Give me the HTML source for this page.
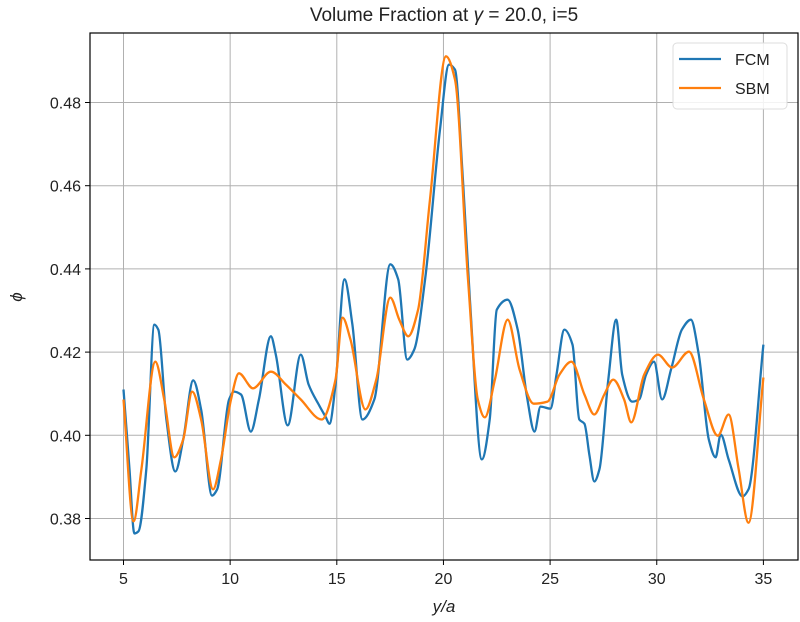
<!DOCTYPE html>
<html><head><meta charset="utf-8"><style>
body{margin:0;background:#fff;}
svg{display:block;font-family:"Liberation Sans","DejaVu Sans",sans-serif;}
</style></head><body>
<svg id="chart" width="800" height="622" viewBox="0 0 800 622">
<g id="grid"></g>
<g id="series"></g>
<rect x="90" y="33" width="708" height="527" fill="none" stroke="#000" stroke-width="1.2"/>
<g id="xticks"></g>
<g id="yticks"></g>
<text x="444" y="21" text-anchor="middle" font-size="19" fill="#222">Volume Fraction at <tspan font-style="italic">γ</tspan> = 20.0, i=5</text>
<text x="444" y="612" text-anchor="middle" font-size="17" font-style="italic" fill="#222">y/a</text>
<text x="22" y="297" text-anchor="middle" font-size="17" font-style="italic" fill="#222" transform="rotate(-90 22 297)">ϕ</text>
<g>
<rect x="673" y="43" width="114" height="66" rx="4" fill="#fff" fill-opacity="0.85" stroke="#ddd"/>
<line x1="679" y1="59" x2="721" y2="59" stroke="#1f77b4" stroke-width="2.2"/>
<text x="735" y="65" font-size="16" fill="#222">FCM</text>
<line x1="679" y1="88" x2="721" y2="88" stroke="#ff7f0e" stroke-width="2.2"/>
<text x="735" y="94" font-size="16" fill="#222">SBM</text>
</g>
</svg>
<script>
const xTickVals=[5,10,15,20,25,30,35];
const yTickVals=[0.38,0.40,0.42,0.44,0.46,0.48];
const yTickLabels=["0.38","0.40","0.42","0.44","0.46","0.48"];
const fcmX=[5.00,5.28,5.51,5.70,6.07,6.45,6.63,7.01,7.43,7.80,8.27,8.64,9.15,9.39,9.95,10.18,10.51,10.97,11.35,11.91,12.14,12.70,13.31,13.68,14.15,14.47,14.66,14.94,15.36,15.73,16.20,16.76,17.51,17.88,18.30,18.63,19.14,19.84,20.26,20.54,20.91,21.24,21.80,22.17,22.50,23.01,23.48,23.90,24.27,24.55,25.02,25.30,25.67,26.05,26.37,26.61,26.84,27.07,27.31,27.73,28.10,28.38,28.85,29.17,29.50,29.87,30.25,30.67,31.18,31.60,31.97,32.44,32.76,33.00,33.37,34.02,34.30,35.00];
const fcmY=[0.4110,0.3918,0.3764,0.3769,0.3918,0.4266,0.4254,0.4038,0.3913,0.3990,0.4132,0.4062,0.3855,0.3870,0.4086,0.4105,0.4098,0.4009,0.4086,0.4238,0.4194,0.4024,0.4194,0.4122,0.4074,0.4045,0.4028,0.4122,0.4375,0.4266,0.4038,0.4086,0.4411,0.4375,0.4182,0.4206,0.4375,0.4735,0.4891,0.4879,0.4615,0.4326,0.3942,0.4038,0.4302,0.4326,0.4254,0.4098,0.4009,0.4069,0.4064,0.4146,0.4254,0.4218,0.4038,0.4028,0.3954,0.3889,0.3918,0.4134,0.4278,0.4146,0.4081,0.4086,0.4146,0.4177,0.4086,0.4158,0.4254,0.4278,0.4194,0.3990,0.3947,0.4002,0.3942,0.3853,0.3870,0.4218];
const sbmX=[5.00,5.47,5.84,6.49,6.91,7.38,7.80,8.22,8.64,9.20,9.57,10.04,10.41,11.07,11.91,12.61,13.31,14.29,14.94,15.27,15.64,16.34,16.85,17.51,17.93,18.35,18.81,19.37,20.12,20.54,21.15,21.61,21.94,22.41,23.01,23.57,24.23,24.88,25.44,26.00,26.61,27.07,27.54,27.96,28.47,28.80,29.41,30.06,30.72,31.51,32.21,32.86,33.37,33.84,34.30,35.00];
const sbmY=[0.4086,0.3793,0.3918,0.4177,0.4086,0.3947,0.3990,0.4105,0.4038,0.3870,0.3942,0.4086,0.4149,0.4113,0.4153,0.4122,0.4086,0.4038,0.4134,0.4283,0.4230,0.4062,0.4134,0.4331,0.4278,0.4238,0.4302,0.4567,0.4911,0.4855,0.4375,0.4086,0.4043,0.4134,0.4278,0.4158,0.4076,0.4081,0.4146,0.4177,0.4098,0.4050,0.4098,0.4134,0.4086,0.4031,0.4146,0.4194,0.4163,0.4201,0.4086,0.3999,0.4050,0.3918,0.3790,0.4139];

const NS='http://www.w3.org/2000/svg';
const L=90,R=798,T=33,B=560;
function sx(v){return 123.5+(v-5)*21.33;}
function sy(v){return 518.5-(v-0.38)*4160;}
function mk(tag,attrs,parent){const e=document.createElementNS(NS,tag);for(const k in attrs)e.setAttribute(k,attrs[k]);parent.appendChild(e);return e;}
const grid=document.getElementById('grid'),xt=document.getElementById('xticks'),yt=document.getElementById('yticks'),ser=document.getElementById('series');
xTickVals.forEach(v=>{
  const x=sx(v);
  const g=mk('line',{x1:x,x2:x,y1:T,y2:B,stroke:'#b0b0b0','stroke-width':1},grid);
  
  
  const t=mk('line',{x1:x,x2:x,y1:B,y2:B+5,stroke:'#000','stroke-width':1},xt);
  
  
  const l=mk('text',{x:x,y:B+24,'text-anchor':'middle','font-size':16,fill:'#222'},xt);
  l.textContent=String(v);
  
  
});
yTickVals.forEach((v,i)=>{
  const y=sy(v);
  const g=mk('line',{x1:L,x2:R,y1:y,y2:y,stroke:'#b0b0b0','stroke-width':1},grid);
  
  
  const t=mk('line',{x1:L-5,x2:L,y1:y,y2:y,stroke:'#000','stroke-width':1},yt);
  
  
  const l=mk('text',{x:L-9,y:y+6,'text-anchor':'end','font-size':16,fill:'#222'},yt);
  l.textContent=yTickLabels[i];
  
  
});
// monotone cubic (Fritsch-Carlson) in pixel space
function smoothPath(xs,ys){
  const px=xs.map(sx),py=ys.map(sy),n=px.length;
  const d=[],m=new Array(n);
  for(let i=0;i<n-1;i++)d.push((py[i+1]-py[i])/(px[i+1]-px[i]));
  m[0]=d[0];m[n-1]=d[n-2];
  for(let i=1;i<n-1;i++){
    if(d[i-1]*d[i]<=0)m[i]=0;
    else{const h0=px[i]-px[i-1],h1=px[i+1]-px[i];const w1=2*h1+h0,w2=h1+2*h0;m[i]=(w1+w2)/(w1/d[i-1]+w2/d[i]);}
  }
  let s='M'+px[0].toFixed(1)+','+py[0].toFixed(1);
  for(let i=0;i<n-1;i++){
    const h=(px[i+1]-px[i])/3;
    s+=' C'+(px[i]+h).toFixed(1)+','+(py[i]+m[i]*h).toFixed(1)+' '+(px[i+1]-h).toFixed(1)+','+(py[i+1]-m[i+1]*h).toFixed(1)+' '+px[i+1].toFixed(1)+','+py[i+1].toFixed(1);
  }
  return s;
}
const f=mk('path',{d:smoothPath(fcmX,fcmY),fill:'none',stroke:'#1f77b4','stroke-width':2.3,'stroke-linejoin':'round'},ser);


const s=mk('path',{d:smoothPath(sbmX,sbmY),fill:'none',stroke:'#ff7f0e','stroke-width':2.3,'stroke-linejoin':'round'},ser);


</script>
</body></html>
